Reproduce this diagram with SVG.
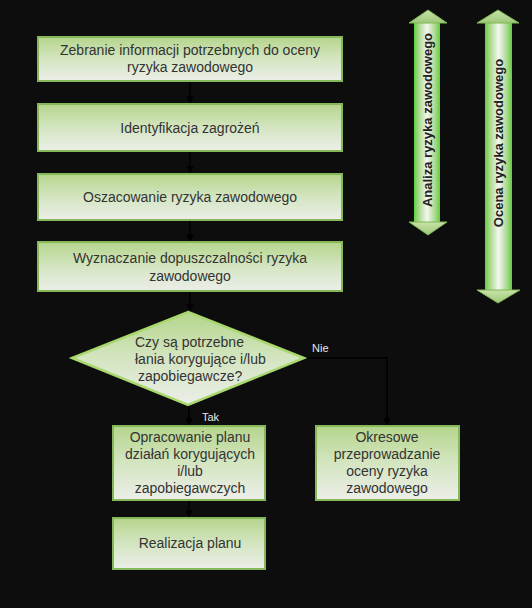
<svg xmlns="http://www.w3.org/2000/svg" width="532" height="608" viewBox="0 0 532 608">
<defs>
<linearGradient id="boxg" x1="0" y1="0" x2="0" y2="1">
<stop offset="0" stop-color="#b5d58c"/>
<stop offset="0.5" stop-color="#d4e5c1"/>
<stop offset="1" stop-color="#eceee9"/>
</linearGradient>
<linearGradient id="shaftg" x1="0" y1="0" x2="1" y2="0">
<stop offset="0" stop-color="#5fcf3f"/>
<stop offset="0.15" stop-color="#9fd67f"/>
<stop offset="0.5" stop-color="#f4f6f2"/>
<stop offset="0.85" stop-color="#9fd67f"/>
<stop offset="1" stop-color="#5fcf3f"/>
</linearGradient>
<linearGradient id="headg" x1="0" y1="0" x2="0" y2="1">
<stop offset="0" stop-color="#c8e2a8"/>
<stop offset="1" stop-color="#9ec87a"/>
</linearGradient>
<marker id="ah" viewBox="0 0 10 10" refX="9" refY="5" markerWidth="5" markerHeight="5" orient="auto">
<path d="M0,0 L10,5 L0,10 z" fill="#000"/>
</marker>
<style>
.box{fill:url(#boxg);stroke:#86b85a;stroke-width:2}
.t{font-family:"Liberation Sans",Arial,sans-serif;font-size:14px;fill:#333;text-anchor:middle}
.tl{font-family:"Liberation Sans",Arial,sans-serif;font-size:14px;fill:#333}
.lbl{font-family:"Liberation Sans",Arial,sans-serif;font-size:11px;fill:#e8e8e8}
.vt{font-family:"Liberation Sans",Arial,sans-serif;font-size:13px;font-weight:bold;fill:#222;text-anchor:middle}
.c{stroke:#000;stroke-width:1.5;fill:none;marker-end:url(#ah)}
</style>
</defs>
<rect width="532" height="608" fill="#0d0d0d"/>
<g id="connectors">
<line class="c" x1="190" y1="82" x2="190" y2="103"/>
<line class="c" x1="190" y1="152" x2="190" y2="173"/>
<line class="c" x1="190" y1="221" x2="190" y2="241"/>
<line class="c" x1="190" y1="292" x2="190" y2="311"/>
<line class="c" x1="189" y1="405" x2="189" y2="425"/>
<polyline class="c" points="304,358 387,358 387,425"/>
<line class="c" x1="189" y1="501" x2="189" y2="517"/>
</g>
<g id="n1"><rect class="box" x="38" y="37" width="304" height="44"/>
<text class="t" x="190" y="55">Zebranie informacji potrzebnych do oceny</text>
<text class="t" x="190" y="72">ryzyka zawodowego</text></g>
<g id="n2"><rect class="box" x="38" y="104" width="304" height="47"/>
<text class="t" x="190" y="133">Identyfikacja zagrożeń</text></g>
<g id="n3"><rect class="box" x="38" y="174" width="304" height="46"/>
<text class="t" x="190" y="202">Oszacowanie ryzyka zawodowego</text></g>
<g id="n4"><rect class="box" x="38" y="242" width="304" height="49"/>
<text class="t" x="190" y="263">Wyznaczanie dopuszczalności ryzyka</text>
<text class="t" x="190" y="281">zawodowego</text></g>
<g id="n5"><polygon points="188,312 304,358 188,405 72,358" fill="url(#boxg)" stroke="#a8d86e" stroke-width="2.5"/>
<text class="tl" x="135" y="347">Czy są potrzebne</text>
<text class="tl" x="135" y="364">łania korygujące i/lub</text>
<text class="tl" x="138" y="381">zapobiegawcze?</text></g>
<text class="lbl" x="312" y="352">Nie</text>
<text class="lbl" x="202" y="421">Tak</text>
<g id="n6"><rect class="box" x="113" y="426" width="152" height="74"/>
<text class="t" x="190" y="442">Opracowanie planu</text>
<text class="t" x="190" y="459">działań korygujących</text>
<text class="t" x="190" y="476">i/lub</text>
<text class="t" x="190" y="493">zapobiegawczych</text></g>
<g id="n7"><rect class="box" x="316" y="426" width="143" height="74"/>
<text class="t" x="387" y="442">Okresowe</text>
<text class="t" x="387" y="459">przeprowadzanie</text>
<text class="t" x="387" y="476">oceny ryzyka</text>
<text class="t" x="387" y="493">zawodowego</text></g>
<g id="n8"><rect class="box" x="113" y="518" width="152" height="51"/>
<text class="t" x="190" y="548">Realizacja planu</text></g>
<g id="a1">
<rect x="414" y="22" width="26" height="201" fill="url(#shaftg)"/>
<polygon points="428,10 447,23 409,23" fill="url(#headg)" stroke="#7fb850" stroke-width="1"/>
<polygon points="428,235 447,222 409,222" fill="url(#headg)" stroke="#7fb850" stroke-width="1"/>
<text class="vt" transform="translate(432,120) rotate(-90)">Analiza ryzyka zawodowego</text>
</g>
<g id="a2">
<rect x="485" y="22" width="27" height="269" fill="url(#shaftg)"/>
<polygon points="498,10 519,23 477,23" fill="url(#headg)" stroke="#7fb850" stroke-width="1"/>
<polygon points="498,303 520,290 477,290" fill="url(#headg)" stroke="#7fb850" stroke-width="1"/>
<text class="vt" transform="translate(503,143) rotate(-90)">Ocena ryzyka zawodowego</text>
</g>
</svg>
